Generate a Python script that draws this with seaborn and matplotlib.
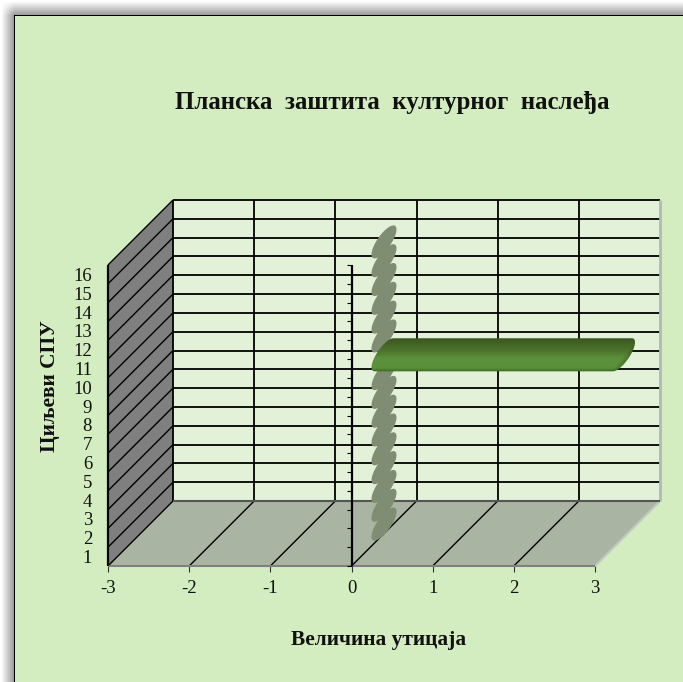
import numpy as np
import pandas as pd
import matplotlib
matplotlib.use("Agg")
import matplotlib.pyplot as plt
from matplotlib.patches import Polygon
from matplotlib.path import Path
from matplotlib.transforms import IdentityTransform
import seaborn as sns

# Data
goals = [str(i) for i in range(16, 0, -1)]
impact = [0, 0, 0, 0, 0, 0, 3, 0, 0, 0, 0, 0, 0, 0, 0, 0]
x_ticks = [-3, -2, -1, 0, 1, 2, 3]
title_text = "Планска  заштита  културног  наслеђа"
x_title = "Величина утицаја"
y_title = "Циљеви СПУ"

W, H = 683, 682
DEPTH = 65.0        # oblique depth of the box, px
R_DEPTH = 12.5      # cylinder radius along the depth direction, px
CAP_INSET = 5.0     # rounded end of a non-empty cylinder, px
PANEL = "#d3edc0"
WALL = "#e4f1d9"
SIDE = "#7f7f7f"
FLOOR = "#a9b5a2"
STUB = "#7f8e72"

sns.set_theme(style="white")
plt.rcParams["font.family"] = ["Liberation Serif", "DejaVu Serif"]

fig = plt.figure(figsize=(W / 100, H / 100), dpi=100)

# Panel with a soft shadow along its top and left edges
bg = fig.add_axes([0, 0, 1, 1], zorder=-1)
yy, xx = np.mgrid[0:H, 0:W]
amt = np.clip((xx - 1) / 13.0, 0, 1) * np.clip((yy - 1) / 14.0, 0, 1)
grey = (255 - amt * 105) / 255.0
img = np.dstack([grey] * 3)
inside = (xx >= 15) & (yy >= 16)
img[inside] = matplotlib.colors.to_rgb(PANEL)
edge = ((xx == 14) & (yy >= 15)) | ((yy == 15) & (xx >= 14))
img[edge] = 0
bg.imshow(img, extent=(0, W, H, 0), aspect="auto", interpolation="nearest")
bg.axis("off")

# Front plane of the box
ax = fig.add_axes([108 / W, (H - 566) / H, 487 / W, 301 / H])
df = pd.DataFrame({"goal": goals, "impact": impact})
sns.barplot(data=df, x="impact", y="goal", order=goals, orient="h",
            width=1.15, color=STUB, ax=ax)
ax.set_xlim(-3, 3)
ax.set_ylim(15.5, -0.5)
ax.set_autoscale_on(False)
ax.patch.set_visible(False)
for s in ax.spines.values():
    s.set_visible(False)


def project(x, y, depth=0.0):
    """Data position plus an oblique depth offset, in display pixels."""
    px, py = ax.transData.transform((x, y))
    return px + depth, py + depth


def shape(points, **kw):
    ax.add_patch(Polygon(points, closed=True, transform=IdentityTransform(),
                         clip_on=False, **kw))


def segment(p, q, color="black", lw=1.5, z=2):
    ax.plot([p[0], q[0]], [p[1], q[1]], color=color, lw=lw, solid_capstyle="butt",
            transform=IdentityTransform(), clip_on=False, zorder=z)


y_low, y_high = 15.5, -0.5
rows = np.arange(-0.5, 16.0, 1.0)

# Walls and floor
shape([project(-3, y_low, DEPTH), project(3, y_low, DEPTH),
       project(3, y_high, DEPTH), project(-3, y_high, DEPTH)],
      facecolor=WALL, edgecolor="none", zorder=1)
shape([project(-3, y_low), project(-3, y_high),
       project(-3, y_high, DEPTH), project(-3, y_low, DEPTH)],
      facecolor=SIDE, edgecolor="none", zorder=1)
shape([project(-3, y_low), project(3, y_low),
       project(3, y_low, DEPTH), project(-3, y_low, DEPTH)],
      facecolor=FLOOR, edgecolor="none", zorder=1)

# Gridlines on the three planes
for r in rows:
    segment(project(-3, r, DEPTH), project(3, r, DEPTH), lw=1.3)
    segment(project(-3, r), project(-3, r, DEPTH), lw=1.0)
for t in x_ticks[:-1]:
    segment(project(t, y_low, DEPTH), project(t, y_high, DEPTH), lw=1.3)
for t in x_ticks[1:-1]:
    segment(project(t, y_low), project(t, y_low, DEPTH), lw=1.0)
segment(project(-3, y_low), project(-3, y_high), lw=1.6, z=3)
segment(project(3, y_low, DEPTH), project(3, y_high, DEPTH), color="#b4b8ae", lw=2)
segment(project(3, y_low), project(3, y_low, DEPTH), color="#c2c8bc", lw=1.5)
segment(project(-3, y_low), project(3, y_low), color="#808080", lw=1.5)
segment(project(-3, y_low, DEPTH), project(3, y_low, DEPTH), color="#555555", lw=1.5)

# Axis line at zero with its row ticks
segment(project(0, y_low), project(0, y_high), lw=1.6, z=6)
for r in rows:
    a = project(0, r)
    segment(a, (a[0] - 5, a[1]), lw=0.8, z=6)

# Replace each flat bar with an oblique rounded cylinder
T = np.linspace(0, np.pi, 40)
for bar in list(ax.patches):
    if not isinstance(bar, matplotlib.patches.Rectangle):
        continue
    x0, w = bar.get_x(), bar.get_width()
    yc = bar.get_y() + bar.get_height() / 2
    half_h = abs(project(0, yc + bar.get_height() / 2)[1] - project(0, yc)[1])
    bar.set_visible(False)

    cx0, cy = project(x0, yc, DEPTH / 2)
    cx1 = project(x0 + w, yc, DEPTH / 2)[0]
    if w > 0:
        cx1 -= CAP_INSET
    t0 = np.arctan2(half_h, R_DEPTH)

    def rim(cx, ts):
        return np.c_[cx + R_DEPTH * np.cos(ts),
                     cy + R_DEPTH * np.cos(ts) + half_h * np.sin(ts)]

    outline = np.r_[rim(cx1, t0 - np.pi + T), rim(cx0, t0 + T)]
    if w == 0:
        shape(outline, facecolor=STUB, edgecolor="none", zorder=3)
        continue

    # Shaded body: vertical banding, darkened toward the far end
    left, right = outline[:, 0].min() - 1, outline[:, 0].max() + 1
    low, high = outline[:, 1].min() - 1, outline[:, 1].max() + 1
    gy, gx = np.mgrid[low:high:64j, left:right:320j]
    s = (high - gy) / (high - low)
    stops = [0.0, 0.12, 0.4, 0.62, 0.88, 0.96, 1.0]
    tones = [(0.23, 0.34, 0.13), (0.24, 0.36, 0.14), (0.30, 0.45, 0.17),
             (0.36, 0.57, 0.23), (0.36, 0.57, 0.23), (0.28, 0.47, 0.17),
             (0.22, 0.38, 0.12)]
    body = np.dstack([np.interp(s, stops, [c[i] for c in tones]) for i in range(3)])
    along = gx - (gy - cy) * (R_DEPTH / (half_h * 1.4))
    fade = np.clip((along - (cx1 + 2)) / 12.0, 0, 1)[..., None]
    body = body * (1 - 0.35 * fade)
    im = ax.imshow(body, extent=(left, right, low, high), origin="lower", aspect="auto",
                   transform=IdentityTransform(), interpolation="bilinear", zorder=4)
    im.set_clip_box(fig.bbox)
    im.set_clip_path(Path(outline, closed=False), IdentityTransform())

ax.set_xlim(-3, 3)
ax.set_ylim(15.5, -0.5)

# Tick labels and titles
ax.set_xticks(x_ticks)
ax.set_xticklabels([str(t) for t in x_ticks])
ax.tick_params(axis="x", length=4, width=0.8, color="#333333", labelsize=13.5, pad=6,
               labelcolor="#111111", bottom=True)
ax.tick_params(axis="y", length=0, labelsize=13.5, pad=11.5, labelcolor="#111111")
ax.set_xlabel(x_title, fontsize=15.4, fontweight="bold", color="#111111")
ax.xaxis.set_label_coords((379 - 108) / 487, -(640 - 566) / 301)
ax.xaxis.label.set_verticalalignment("center")
ax.set_ylabel(y_title, fontsize=15.4, fontweight="bold", color="#111111")
ax.yaxis.set_label_coords((50 - 108) / 487, (566 - 386) / 301)
ax.yaxis.label.set_verticalalignment("center")
fig.text(392 / W, 1 - 103 / H, title_text, ha="center", va="center",
         fontsize=17.9, fontweight="bold", color="#111111")

fig.savefig("out.png", dpi=100)
